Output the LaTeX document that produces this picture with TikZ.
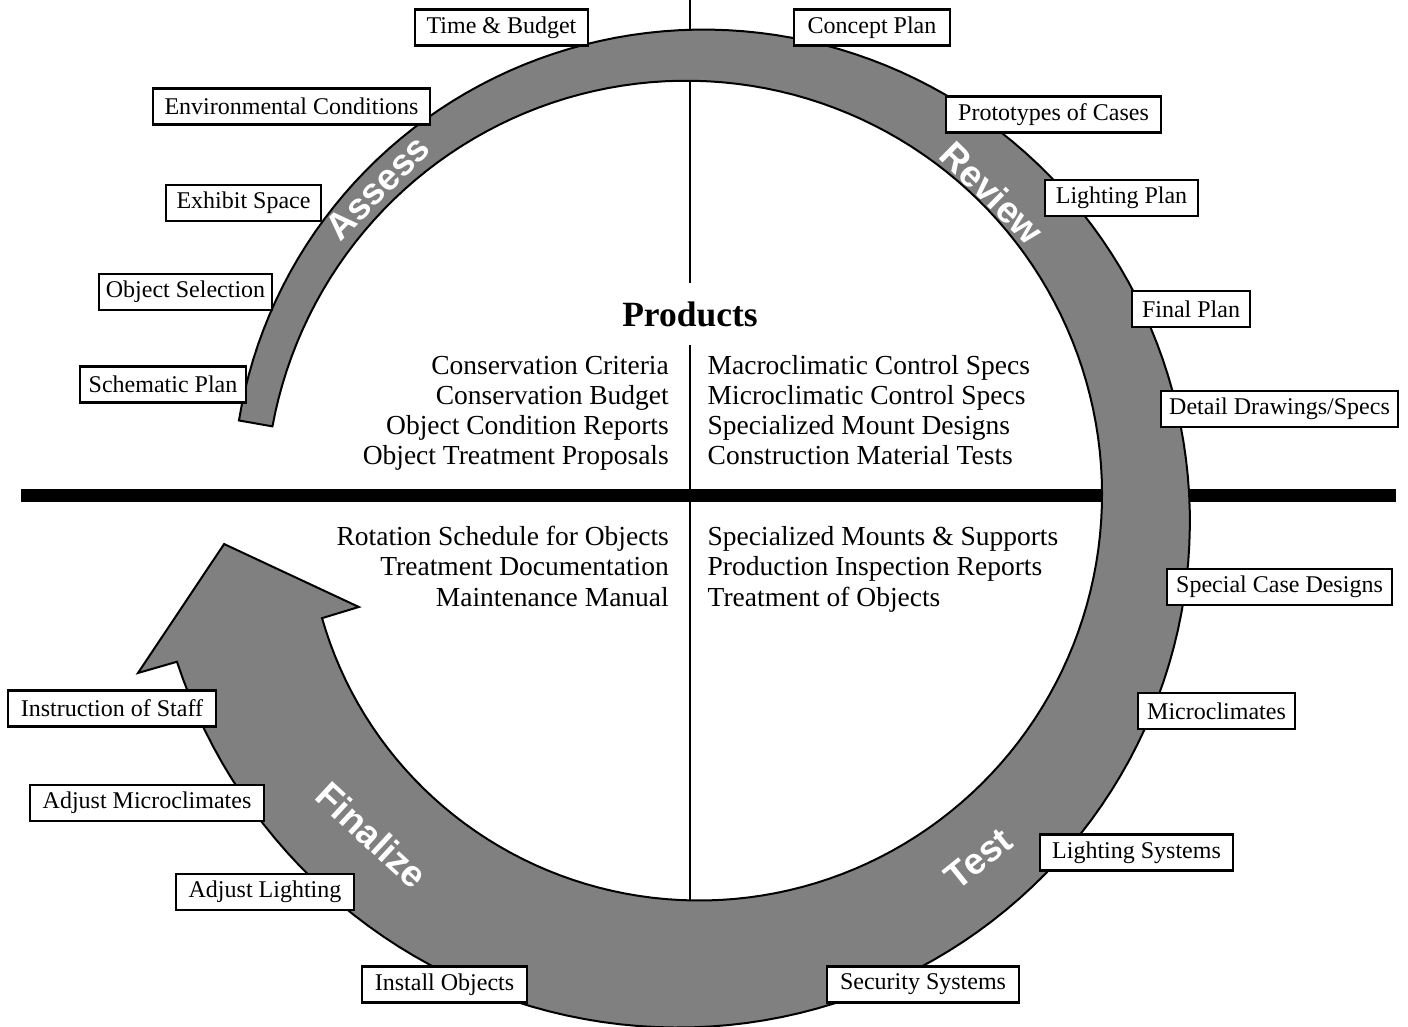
\documentclass[tikz,border=0pt]{standalone}
\usepackage{fontspec}
\setmainfont{Liberation Serif}
\newfontfamily\phasefont{Liberation Sans}
\definecolor{ringgray}{gray}{0.5}
\begin{document}
\begin{tikzpicture}[x=1pt,y=-1pt,
  declare function={
    ro(\t)=458+0.2406*(\t-190)-7*sin(1.0843*(\t-190));
    ri(\t)=424-5.554*((\t-190)/100)-0.5208*((\t-190)/100)^3;
  },
  box/.style={draw=black, line width=2.4pt, fill=white, inner sep=0pt, minimum height=36pt, font=\fontsize{24}{26}\selectfont},
  prod/.style={inner sep=0pt, font=\fontsize{27.5}{30}\selectfont},
  phase/.style={inner sep=0pt, text=white, font=\phasefont\bfseries\fontsize{37}{40}\selectfont},
  ring/.style={draw=black, line width=2pt, fill=ringgray, line join=miter},
  divider/.style={line width=2pt},
  thickline/.style={line width=13pt},
]
\useasboundingbox[fill=white] (0,0) rectangle (1408,1026);
% dividers
\coordinate (vtop) at (690,0);
\coordinate (vgapA) at (690,283);
\coordinate (vgapB) at (690,345);
\coordinate (vbot) at (690,910);
\draw[divider] (vtop) -- (vgapA);
\draw[divider] (vgapB) -- (vbot);
\coordinate (hleft) at (21,495.5);
\coordinate (hright) at (1396,495.5);
\draw[thickline] (hleft) -- (hright);
% circular arrow
\begin{scope}[shift={(690,500)}]
\draw[ring] plot[domain=190:522.5, samples=170] (\x:{ro(\x)})
  -- (522.6:578.5) -- (534.6:468) -- (522.1:348)
  -- plot[domain=0:332.2, samples=170] ({522.2-\x}:{ri(522.2-\x)})
  -- cycle;
\node[phase, rotate=45] (assess) at (225:442) {Assess};
\node[phase, rotate=-44.5] (review) at (314.5:431) {Review};
\node[phase, rotate=38.8] (test) at (51.2:460) {Test};
\node[phase, rotate=-42.8] (finalize) at (133.5:462) {Finalize};
\end{scope}
% products
\node[inner sep=0pt, anchor=base, font=\bfseries\fontsize{35.5}{38}\selectfont] (products) at (690,326.7) {Products};
\node[prod, anchor=base east] (pl1) at (669,374.3) {Conservation Criteria};
\node[prod, anchor=base east] (pl2) at (669,404.3) {Conservation Budget};
\node[prod, anchor=base east] (pl3) at (669,434.3) {Object Condition Reports};
\node[prod, anchor=base east] (pl4) at (669,464.3) {Object Treatment Proposals};
\node[prod, anchor=base west] (pr1) at (707.5,374.3) {Macroclimatic Control Specs};
\node[prod, anchor=base west] (pr2) at (707.5,404.3) {Microclimatic Control Specs};
\node[prod, anchor=base west] (pr3) at (707.5,434.3) {Specialized Mount Designs};
\node[prod, anchor=base west] (pr4) at (707.5,464.3) {Construction Material Tests};
\node[prod, anchor=base east] (ql1) at (669,545) {Rotation Schedule for Objects};
\node[prod, anchor=base east] (ql2) at (669,575.5) {Treatment Documentation};
\node[prod, anchor=base east] (ql3) at (669,606) {Maintenance Manual};
\node[prod, anchor=base west] (qr1) at (707.5,545) {Specialized Mounts \& Supports};
\node[prod, anchor=base west] (qr2) at (707.5,575.5) {Production Inspection Reports};
\node[prod, anchor=base west] (qr3) at (707.5,606) {Treatment of Objects};
% label boxes
\node[box, minimum width=173pt] (tb) at (501.5,27.5) {Time \& Budget};
\node[box, minimum width=156pt] (cp) at (872,27.5) {Concept Plan};
\node[box, minimum width=277pt] (ec) at (291.5,106.5) {Environmental Conditions};
\node[box, minimum width=215pt] (pc) at (1053.5,114.5) {Prototypes of Cases};
\node[box, minimum width=155pt] (es) at (243.5,203) {Exhibit Space};
\node[box, minimum width=153pt] (lp) at (1121.5,198) {Lighting Plan};
\node[box, minimum width=173pt] (os) at (185.5,292) {Object Selection};
\node[box, minimum width=118pt] (fp) at (1191,309) {Final Plan};
\node[box, minimum width=166pt] (sp) at (163,384.5) {Schematic Plan};
\node[box, minimum width=237pt] (dd) at (1279.5,409) {Detail Drawings/Specs};
\node[box, minimum width=225pt] (sc) at (1279.5,587) {Special Case Designs};
\node[box, minimum width=157pt] (mc) at (1216.5,711) {Microclimates};
\node[box, minimum width=193pt] (ls) at (1136.5,852.5) {Lighting Systems};
\node[box, minimum width=192pt] (ss) at (923,984.5) {Security Systems};
\node[box, minimum width=165pt] (io) at (444.5,984.5) {Install Objects};
\node[box, minimum width=178pt] (al) at (265,892) {Adjust Lighting};
\node[box, minimum width=234pt] (am) at (147,803) {Adjust Microclimates};
\node[box, minimum width=208pt] (is) at (112,708.5) {Instruction of Staff};
\end{tikzpicture}
\end{document}
